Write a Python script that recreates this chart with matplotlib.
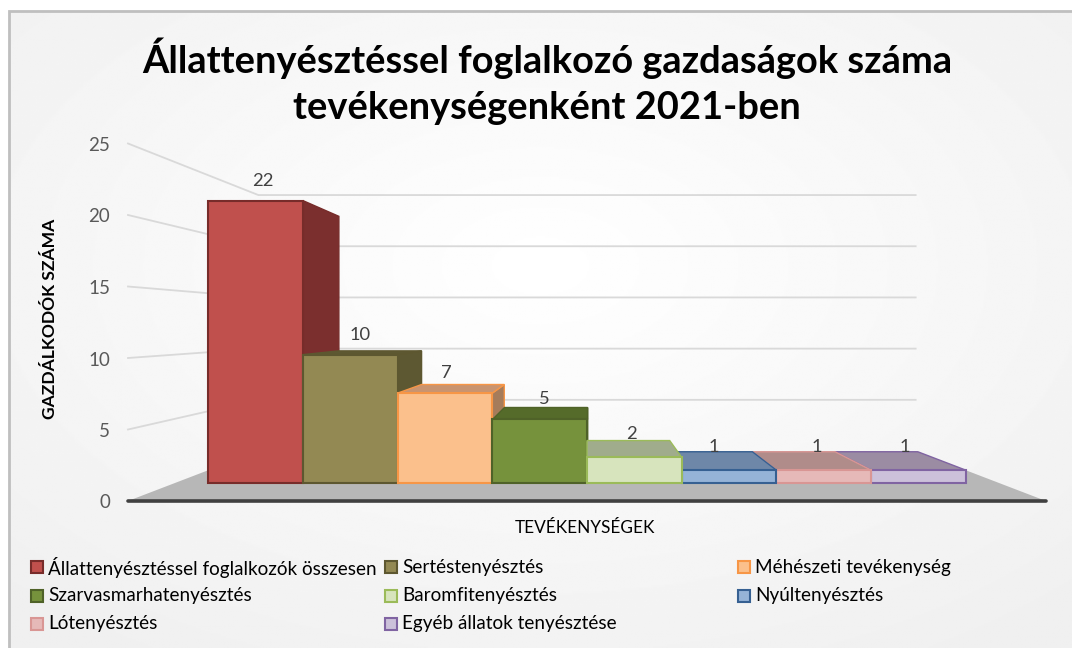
import numpy as np
import matplotlib
matplotlib.use("Agg")
import matplotlib.pyplot as plt
from matplotlib.patches import Polygon

plt.rcParams['font.family'] = ['Lato', 'DejaVu Sans']

categories = [
    'Állattenyésztéssel foglalkozók összesen', 'Sertéstenyésztés', 'Méhészeti tevékenység',
    'Szarvasmarhatenyésztés', 'Baromfitenyésztés', 'Nyúltenyésztés',
    'Lótenyésztés', 'Egyéb állatok tenyésztése',
]
values = [22, 10, 7, 5, 2, 1, 1, 1]
y_ticks = [0, 5, 10, 15, 20, 25]

face_colors = ['#C0504D', '#938953', '#FBC08C', '#76923C', '#D7E4BD', '#95B3D7', '#E6B9B8', '#CCC1DA']
edge_colors = ['#772C2A', '#5D5730', '#F79646', '#4F6228', '#9BBB59', '#366092', '#D99694', '#8064A2']
side_colors = ['#7B2F2E', '#5D5832', '#A67C5B', '#556B2A', '#A0AC8C', '#6E87A8', '#B08C8A', '#9B8CA3']
top_colors = ['#7B2F2E', '#5D5832', '#C99470', '#556B2A', '#A0AC8C', '#6E87A8', '#B08C8A', '#9B8CA3']

# perspective set up, everything is in figure pixels
VX, VY = 587, 325
UNIT = 14.3
EYE = 176
HALF_FLOOR = 459
HALF_BARS = 422
S_NEAR, S_FRONT, S_BACK, S_WALL = 1.0, 0.898, 0.784, 0.716


def proj(x, v, s):
    return (VX + s * x, VY + s * (EYE - v * UNIT))


fig = plt.figure(figsize=(10.72, 6.48), dpi=100)
ax = fig.add_axes([0, 0, 1, 1])

# panel background, only the top and left border show
yy, xx = np.mgrid[0:1:400j, 0:1:600j]
grad = np.clip(np.hypot(xx - 0.5, yy - 0.4) / 0.72, 0, 1)
ax.imshow(1 - 0.06 * grad, extent=(9, 1072, 648, 11), cmap='gray', vmin=0, vmax=1,
          aspect='auto', zorder=0)
ax.set_xlim(0, 1072)
ax.set_ylim(648, 0)
ax.axis('off')
ax.plot([9, 9, 1072], [648, 11, 11], color='#BFBFBF', lw=2, solid_joinstyle='miter', zorder=1)

# walls and floor
for t in y_ticks[1:]:
    a, b, c = proj(-HALF_FLOOR, t, S_NEAR), proj(-HALF_FLOOR, t, S_WALL), proj(HALF_FLOOR, t, S_WALL)
    ax.plot([a[0], b[0], c[0]], [a[1], b[1], c[1]], color='#D9D9D9', lw=1.3, zorder=2)
ax.add_patch(Polygon([proj(-HALF_FLOOR, 0, S_NEAR), proj(HALF_FLOOR, 0, S_NEAR),
                      proj(HALF_FLOOR, 0, S_WALL), proj(-HALF_FLOOR, 0, S_WALL)],
                     fc='#B7B7B7', ec='none', zorder=2))
ax.plot(*zip(proj(-HALF_FLOOR, 0, S_NEAR), proj(HALF_FLOOR, 0, S_NEAR)),
        color='#404040', lw=2.6, solid_capstyle='round', zorder=3)

# bars, outer ones first so the inner ones overlap them
bar_w = 2 * HALF_BARS / len(values)
order = [0, 7, 1, 6, 2, 5, 3, 4]
for n, i in enumerate(order):
    x0 = -HALF_BARS + i * bar_w
    x1 = x0 + bar_w
    v = values[i]
    z = 4 + n * 0.1
    inner = x1 if x1 <= 0 else x0
    ax.add_patch(Polygon([proj(inner, 0, S_FRONT), proj(inner, v, S_FRONT),
                          proj(inner, v, S_BACK), proj(inner, 0, S_BACK)],
                         fc=side_colors[i], ec=edge_colors[i], lw=1, zorder=z))
    # top face only shows below eye level
    if v * UNIT < EYE:
        ax.add_patch(Polygon([proj(x0, v, S_FRONT), proj(x1, v, S_FRONT),
                              proj(x1, v, S_BACK), proj(x0, v, S_BACK)],
                             fc=top_colors[i], ec=edge_colors[i], lw=1, zorder=z))
    ax.add_patch(Polygon([proj(x0, 0, S_FRONT), proj(x1, 0, S_FRONT),
                          proj(x1, v, S_FRONT), proj(x0, v, S_FRONT)],
                         fc=face_colors[i], ec=edge_colors[i], lw=1.5, zorder=z + 0.05))

# value labels sit a bit above the front top edge
label_shift = [7, 10, 1, 5, -3, -15, -7, -14]
for i, v in enumerate(values):
    xc = -HALF_BARS + (i + 0.5) * bar_w
    px, py = proj(xc, v, S_FRONT)
    ax.text(px + label_shift[i], py - 20 - (3 if v < 3 else 0), str(v), ha='center', va='center',
            fontsize=13.2, color='#404040', zorder=6)

# y ticks
for t in y_ticks:
    px, py = proj(-HALF_FLOOR, t, S_NEAR)
    ax.text(px - 18, py + 2, str(t), ha='right', va='center', fontsize=13.5, color='#595959')

ax.text(547, 81, 'Állattenyésztéssel foglalkozó gazdaságok száma\ntevékenységenként 2021-ben',
        ha='center', va='center', fontsize=27.4, fontweight='bold', color='black', linespacing=1.44)
ax.text(50, 319, 'GAZDÁLKODÓK SZÁMA', rotation=90, ha='center', va='center',
        fontsize=12.6, fontweight='bold', color='black')
ax.text(585, 528, 'TEVÉKENYSÉGEK', ha='center', va='center', fontsize=12.4, color='black')

# legend
legend_x = [31, 385, 738]
legend_y = [567, 596, 624]
for i, name in enumerate(categories):
    lx, ly = legend_x[i % 3], legend_y[i // 3]
    ax.add_patch(Polygon([(lx, ly - 6), (lx + 12, ly - 6), (lx + 12, ly + 6), (lx, ly + 6)],
                         fc=face_colors[i], ec=edge_colors[i], lw=1.5, zorder=5))
    ax.text(lx + 17, ly, name, ha='left', va='center', fontsize=13.6, color='black')

fig.savefig('out.png', dpi=100)
